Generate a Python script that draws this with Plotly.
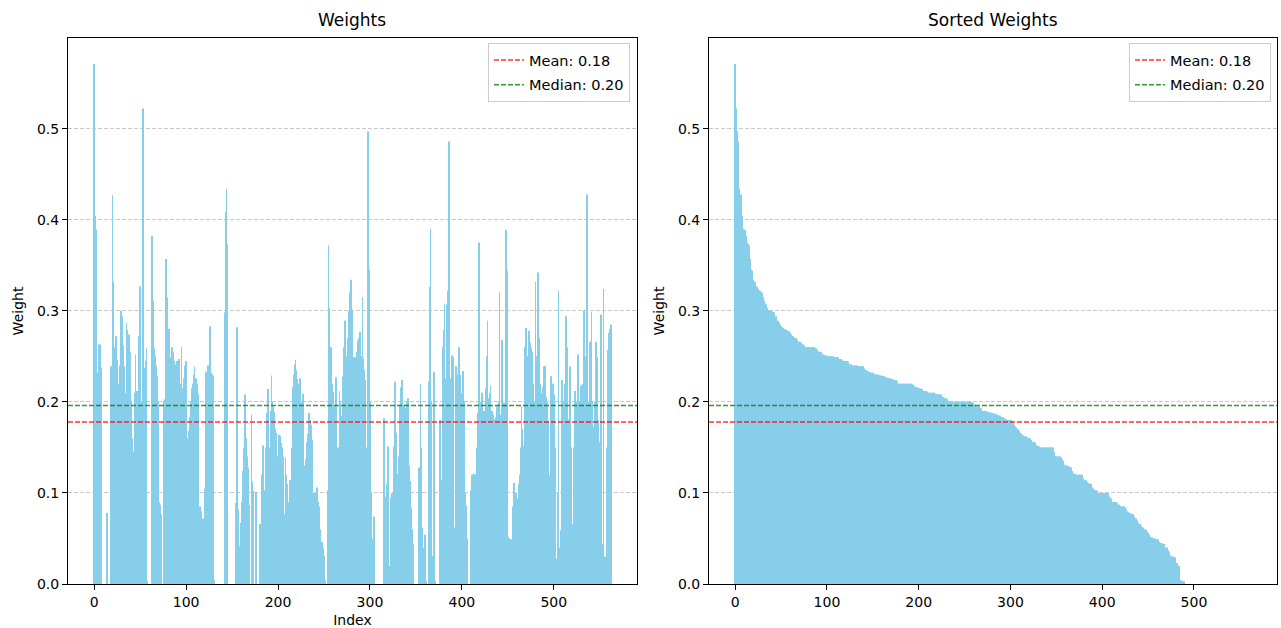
import numpy as np
import plotly.graph_objects as go

# Weight per index (estimated)
weights = [
    0.571, 0.404, 0.389, 0.232, 0.232, 0.263, 0.263, 0.238, 0.0, 0.0,
    0.0, 0.0, 0.0, 0.0, 0.078, 0.0, 0.0, 0.0, 0.239, 0.207,
    0.427, 0.332, 0.26, 0.21, 0.272, 0.246, 0.22, 0.185, 0.24, 0.30,
    0.294, 0.262, 0.239, 0.225, 0.21, 0.287, 0.279, 0.25, 0.274, 0.255,
    0.2, 0.16, 0.145, 0.045, 0.21, 0.252, 0.212, 0.212, 0.19, 0.272,
    0.327, 0.2, 0.023, 0.522, 0.02, 0.237, 0.245, 0.259, 0.003, 0.0,
    0.0, 0.0, 0.0, 0.382, 0.311, 0.259, 0.251, 0.24, 0.228, 0.2,
    0.1, 0.09, 0.087, 0.077, 0.0, 0.0, 0.201, 0.203, 0.357, 0.315,
    0.25, 0.28, 0.26, 0.249, 0.255, 0.26, 0.255, 0.245, 0.23, 0.241,
    0.245, 0.245, 0.247, 0.22, 0.18, 0.26, 0.215, 0.208, 0.226, 0.24,
    0.245, 0.158, 0.16, 0.168, 0.183, 0.2, 0.215, 0.22, 0.23, 0.239,
    0.22, 0.226, 0.22, 0.209, 0.0, 0.085, 0.08, 0.072, 0.064, 0.072,
    0.105, 0.2, 0.233, 0.227, 0.24, 0.24, 0.283, 0.232, 0.23, 0.229,
    0.004, 0.0, 0.0, 0.0, 0.0, 0.0, 0.0, 0.0, 0.0, 0.0,
    0.0, 0.0, 0.298, 0.409, 0.434, 0.373, 0.0, 0.0, 0.0, 0.0,
    0.0, 0.0, 0.0, 0.0, 0.089, 0.282, 0.278, 0.082, 0.042, 0.05,
    0.067, 0.09, 0.124, 0.15, 0.208, 0.16, 0.14, 0.128, 0.087, 0.0,
    0.0, 0.186, 0.112, 0.102, 0.0, 0.0, 0.101, 0.0, 0.0, 0.0,
    0.066, 0.0, 0.12, 0.14, 0.152, 0.0, 0.103, 0.15, 0.188, 0.214,
    0.135, 0.15, 0.19, 0.229, 0.2, 0.195, 0.189, 0.17, 0.166, 0.114,
    0.14, 0.164, 0.163, 0.155, 0.15, 0.14, 0.131, 0.077, 0.139, 0.12,
    0.11, 0.051, 0.09, 0.114, 0.077, 0.15, 0.216, 0.23, 0.241, 0.246,
    0.235, 0.225, 0.22, 0.215, 0.226, 0.19, 0.2, 0.209, 0.121, 0.13,
    0.137, 0.156, 0.165, 0.177, 0.188, 0.18, 0.175, 0.158, 0.1, 0.078,
    0.1, 0.09, 0.106, 0.1, 0.09, 0.085, 0.06, 0.037, 0.046, 0.04,
    0.031, 0.004, 0.0, 0.0, 0.103, 0.372, 0.303, 0.187, 0.26, 0.22,
    0.211, 0.195, 0.185, 0.227, 0.129, 0.15, 0.129, 0.212, 0.2, 0.185,
    0.189, 0.228, 0.26, 0.289, 0.229, 0.25, 0.27, 0.3, 0.32, 0.334,
    0.299, 0.3, 0.22, 0.249, 0.249, 0.244, 0.255, 0.267, 0.27, 0.277,
    0.183, 0.25, 0.315, 0.247, 0.235, 0.224, 0.15, 0.1, 0.497, 0.345,
    0.2, 0.1, 0.05, 0.023, 0.074, 0.0, 0.0, 0.0, 0.0, 0.0,
    0.0, 0.0, 0.0, 0.0, 0.0, 0.182, 0.0, 0.096, 0.11, 0.131,
    0.151, 0.02, 0.0, 0.095, 0.1, 0.045, 0.151, 0.222, 0.166, 0.14,
    0.121, 0.14, 0.161, 0.197, 0.216, 0.224, 0.193, 0.197, 0.116, 0.193,
    0.2, 0.204, 0.156, 0.13, 0.113, 0.084, 0.06, 0.044, 0.0, 0.0,
    0.0, 0.0, 0.0, 0.128, 0.085, 0.22, 0.15, 0.062, 0.029, 0.04,
    0.054, 0.003, 0.0, 0.0, 0.222, 0.326, 0.39, 0.2, 0.031, 0.0,
    0.233, 0.003, 0.0, 0.0, 0.0, 0.0, 0.18, 0.114, 0.1, 0.26,
    0.279, 0.308, 0.214, 0.226, 0.307, 0.322, 0.486, 0.226, 0.045, 0.251,
    0.249, 0.24, 0.062, 0.15, 0.239, 0.23, 0.22, 0.26, 0.23, 0.204,
    0.21, 0.234, 0.2, 0.15, 0.1, 0.086, 0.05, 0.0, 0.0, 0.0,
    0.103, 0.12, 0.12, 0.121, 0.12, 0.12, 0.15, 0.188, 0.208, 0.375,
    0.187, 0.2, 0.21, 0.187, 0.19, 0.172, 0.215, 0.25, 0.289, 0.204,
    0.21, 0.218, 0.189, 0.19, 0.186, 0.181, 0.18, 0.183, 0.195, 0.18,
    0.2, 0.32, 0.186, 0.2, 0.268, 0.199, 0.199, 0.195, 0.389, 0.344,
    0.052, 0.05, 0.049, 0.049, 0.049, 0.07, 0.085, 0.111, 0.1, 0.1,
    0.086, 0.094, 0.11, 0.12, 0.15, 0.195, 0.17, 0.152, 0.247, 0.26,
    0.281, 0.224, 0.25, 0.278, 0.265, 0.26, 0.255, 0.162, 0.22, 0.2,
    0.332, 0.208, 0.25, 0.342, 0.27, 0.22, 0.162, 0.21, 0.216, 0.239,
    0.232, 0.24, 0.205, 0.2, 0.179, 0.12, 0.051, 0.228, 0.22, 0.22,
    0.208, 0.15, 0.062, 0.028, 0.1, 0.322, 0.035, 0.04, 0.059, 0.224,
    0.2, 0.162, 0.22, 0.294, 0.26, 0.241, 0.181, 0.2, 0.239, 0.15,
    0.056, 0.066, 0.15, 0.212, 0.19, 0.2, 0.252, 0.251, 0.2, 0.079,
    0.218, 0.21, 0.22, 0.301, 0.206, 0.25, 0.428, 0.077, 0.2, 0.266,
    0.266, 0.299, 0.2, 0.173, 0.058, 0.2, 0.266, 0.249, 0.18, 0.156,
    0.13, 0.296, 0.2, 0.044, 0.324, 0.03, 0.03, 0.03, 0.15, 0.257,
    0.276, 0.28, 0.285,
]

mean_value = 0.178     # red dashed line
median_value = 0.196   # green dashed line
mean_label = "Mean: 0.18"
median_label = "Median: 0.20"
x_ticks = [0, 100, 200, 300, 400, 500]
y_ticks = [0.0, 0.1, 0.2, 0.3, 0.4, 0.5]

w = np.array(weights)
n = len(w)
idx = np.arange(n)
sorted_w = np.sort(w)[::-1]

span = (n - 1 + 0.8)
x_range = [-0.4 - 0.05 * span, n - 0.6 + 0.05 * span]
y_range = [0, w.max() * 1.05]

W, H = 1281, 628
def px_x(a, b):
    return [a / W, b / W]
def px_y(top, bottom):
    return [(H - bottom) / H, (H - top) / H]

BAR = "#87CEEB"
FONT = "DejaVu Sans"
RED = "rgba(255,0,0,0.8)"
GREEN = "rgba(0,128,0,0.8)"

fig = go.Figure()
for k, (xa, ya, vals, leg) in enumerate([("x", "y", w, "legend"), ("x2", "y2", sorted_w, "legend2")]):
    fig.add_trace(go.Bar(x=idx, y=vals, width=0.8, marker=dict(color=BAR, line=dict(width=0)),
                         xaxis=xa, yaxis=ya, showlegend=False, hoverinfo="skip"))
    fig.add_trace(go.Scatter(x=x_range, y=[mean_value, mean_value], mode="lines",
                             line=dict(color=RED, width=1.5, dash="5px,2px"),
                             name=mean_label, xaxis=xa, yaxis=ya, legend=leg,
                             legendgroup=f"m{k}"))
    fig.add_trace(go.Scatter(x=x_range, y=[median_value, median_value], mode="lines",
                             line=dict(color=GREEN, width=1.5, dash="5px,2px"),
                             name=median_label, xaxis=xa, yaxis=ya, legend=leg,
                             legendgroup=f"d{k}"))

axis_common = dict(showline=True, linecolor="black", linewidth=1, mirror=True,
                   ticks="outside", ticklen=5, tickwidth=1, tickcolor="black",
                   zeroline=False, automargin=False,
                   tickfont=dict(family=FONT, size=14, color="black"))

xa = dict(axis_common, range=x_range, tickvals=x_ticks, showgrid=False)
ya = dict(axis_common, range=y_range, tickvals=y_ticks, tickformat=".1f",
          showgrid=True, gridcolor="rgba(176,176,176,0.7)", gridwidth=1, griddash="4px,2px")

legend_common = dict(yanchor="top", xanchor="right", y=(H - 43) / H,
                     bgcolor="white", bordercolor="#cccccc", borderwidth=1,
                     font=dict(family=FONT, size=14.5), itemwidth=30, tracegroupgap=3)

fig.update_layout(
    width=W, height=H,
    margin=dict(l=0, r=0, t=0, b=0),
    paper_bgcolor="white", plot_bgcolor="white",
    font=dict(family=FONT, size=14, color="black"),
    barmode="overlay",
    xaxis=dict(xa, domain=px_x(68, 637), anchor="y",
               title=dict(text="Index", standoff=8, font=dict(family=FONT, size=14))),
    yaxis=dict(ya, domain=px_y(38, 584), anchor="x",
               title=dict(text="Weight", standoff=10, font=dict(family=FONT, size=14))),
    xaxis2=dict(xa, domain=px_x(709, 1277), anchor="y2"),
    yaxis2=dict(ya, domain=px_y(38, 584), anchor="x2",
                title=dict(text="Weight", standoff=10, font=dict(family=FONT, size=14))),
    legend=dict(legend_common, x=630 / W),
    legend2=dict(legend_common, x=1271 / W),
    annotations=[
        dict(text="Weights", x=(68 + 637) / 2 / W, y=(H - 20) / H, xref="paper", yref="paper",
             showarrow=False, xanchor="center", yanchor="middle", font=dict(family=FONT, size=17)),
        dict(text="Sorted Weights", x=(709 + 1277) / 2 / W, y=(H - 20) / H, xref="paper", yref="paper",
             showarrow=False, xanchor="center", yanchor="middle", font=dict(family=FONT, size=17)),
    ],
)

fig.write_html("out.html", config={"displayModeBar": False},
               post_script="document.body.style.margin='0';")
